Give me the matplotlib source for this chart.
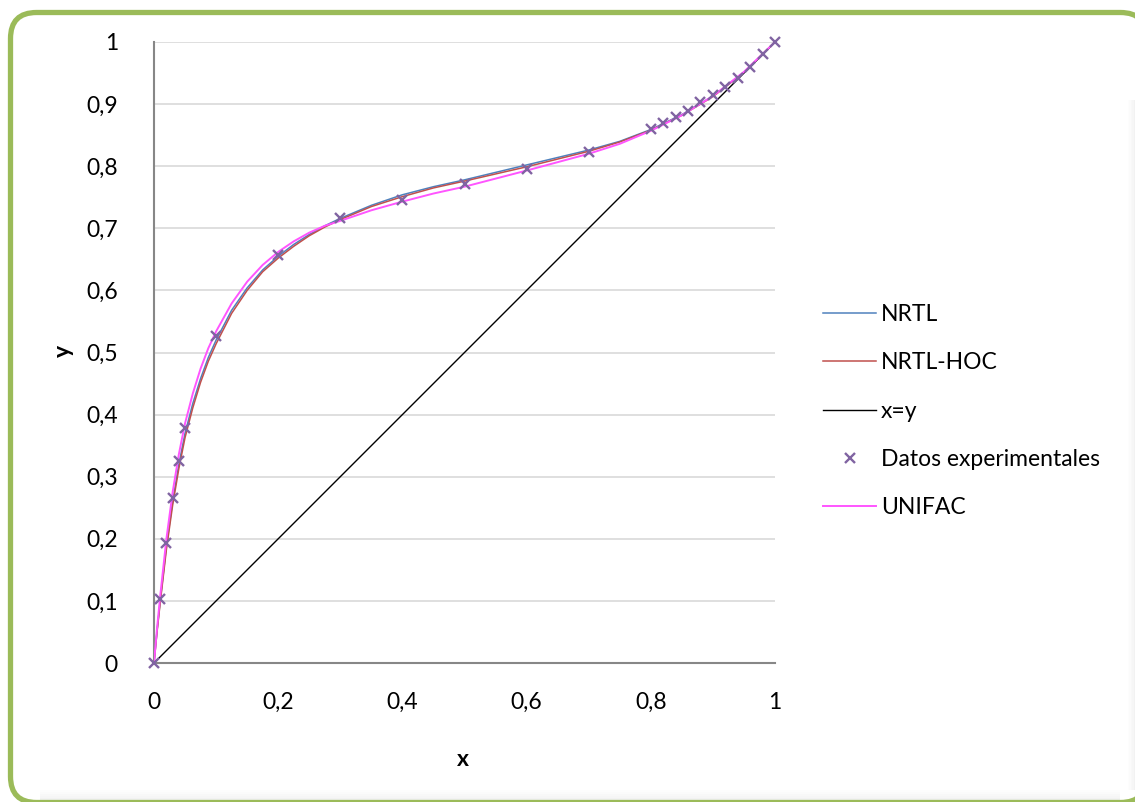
import matplotlib
matplotlib.use("Agg")
import matplotlib.pyplot as plt
from matplotlib.patches import FancyBboxPatch, Rectangle

plt.rcParams['font.family'] = ['Lato', 'DejaVu Sans']

# Experimental data
x_exp = [0, 0.01, 0.02, 0.03, 0.04, 0.05, 0.1, 0.2, 0.3, 0.4, 0.5, 0.6, 0.7,
         0.8, 0.82, 0.84, 0.86, 0.88, 0.9, 0.92, 0.94, 0.96, 0.98, 1.0]
y_exp = [0, 0.103, 0.193, 0.265, 0.325, 0.378, 0.527, 0.657, 0.716, 0.746, 0.772,
         0.796, 0.823, 0.860, 0.870, 0.879, 0.889, 0.903, 0.915, 0.928, 0.942,
         0.960, 0.980, 1.0]

# Model curves
x_mod = [0, 0.005, 0.01, 0.02, 0.03, 0.04, 0.05, 0.0625, 0.075, 0.0875, 0.1, 0.125, 0.15,
         0.175, 0.2, 0.225, 0.25, 0.275, 0.3, 0.35, 0.4, 0.45, 0.5, 0.6, 0.7, 0.75, 0.8,
         0.85, 0.9, 0.95, 1.0]
y_nrtl = [0, 0.053, 0.100, 0.188, 0.260, 0.320, 0.370, 0.418, 0.458, 0.492, 0.520, 0.568,
          0.604, 0.633, 0.655, 0.674, 0.690, 0.704, 0.716, 0.737, 0.754, 0.767, 0.778,
          0.802, 0.826, 0.840, 0.859, 0.883, 0.913, 0.951, 1.0]
y_hoc = [0, 0.051, 0.097, 0.183, 0.254, 0.313, 0.363, 0.411, 0.452, 0.486, 0.514, 0.563,
         0.600, 0.630, 0.652, 0.671, 0.688, 0.702, 0.714, 0.735, 0.751, 0.765, 0.776,
         0.799, 0.824, 0.839, 0.858, 0.882, 0.912, 0.951, 1.0]
y_unifac = [0, 0.057, 0.108, 0.200, 0.275, 0.336, 0.386, 0.434, 0.474, 0.507, 0.534, 0.579,
            0.614, 0.641, 0.662, 0.679, 0.693, 0.704, 0.712, 0.729, 0.743, 0.756, 0.767,
            0.793, 0.820, 0.836, 0.857, 0.882, 0.913, 0.952, 1.0]
x_diag = [0, 1]
y_diag = [0, 1]

ticks = [0, 0.1, 0.2, 0.3, 0.4, 0.5, 0.6, 0.7, 0.8, 0.9, 1.0]
xticks = [0, 0.2, 0.4, 0.6, 0.8, 1.0]
xtick_labels = ['0', '0,2', '0,4', '0,6', '0,8', '1']
ytick_labels = ['0', '0,1', '0,2', '0,3', '0,4', '0,5', '0,6', '0,7', '0,8', '0,9', '1']

FS = 16.5
W, H = 1135, 802
fig = plt.figure(figsize=(W / 100, H / 100), dpi=100)
fig.patch.set_facecolor('white')

# Border background axes (pixel coordinates)
bg = fig.add_axes([0, 0, 1, 1], zorder=-10)
bg.set_xlim(0, W)
bg.set_ylim(H, 0)
bg.axis('off')
border = FancyBboxPatch((10.5, 12.5), 1136, 790, boxstyle="round,pad=0,rounding_size=26",
                        linewidth=3.8, edgecolor='#9BBB59', facecolor='white')
bg.add_patch(border)
# faint shadow bands near right and bottom edges
for i, a in enumerate([0.10, 0.07, 0.05, 0.03, 0.015]):
    bg.add_patch(Rectangle((1135 - 1.5 * (i + 1), 100), 1.5, 690, color='gray', alpha=a, lw=0))
    bg.add_patch(Rectangle((40, 800 - 2 * (i + 1)), 1080, 2, color='gray', alpha=a, lw=0))

ax = fig.add_axes([154 / W, 1 - 663 / H, (775 - 154) / W, (663 - 42) / H])
ax.set_facecolor('none')
ax.set_xlim(0, 1)
ax.set_ylim(0, 1)

ax.plot(x_mod, y_nrtl, color='#4F81BD', lw=1.1, label='NRTL', zorder=3)
ax.plot(x_mod, y_hoc, color='#C0504D', lw=1.1, label='NRTL-HOC', zorder=3)
ax.plot(x_diag, y_diag, color='black', lw=1.0, label='x=y', zorder=3)
ax.plot(x_exp, y_exp, linestyle='none', marker='x', color='#8064A2', ms=7.2, mew=1.7,
        label='Datos experimentales', zorder=5, clip_on=False)
ax.plot(x_mod, y_unifac, color='#FF55FF', lw=1.4, label='UNIFAC', zorder=4)

ax.set_yticks(ticks)
ax.set_yticklabels(ytick_labels)
ax.set_xticks(xticks)
ax.set_xticklabels(xtick_labels)
ax.tick_params(length=0, labelsize=FS, colors='black')
ax.tick_params(axis='y', pad=26)
ax.tick_params(axis='x', pad=21)
ax.grid(axis='y', color='#D9D9D9', lw=1.2)
ax.set_axisbelow(True)
for s in ['top', 'right']:
    ax.spines[s].set_visible(False)
for s in ['left', 'bottom']:
    ax.spines[s].set_color('#878787')
    ax.spines[s].set_linewidth(1.5)

fig.text(463 / W, 1 - 760 / H, 'x', fontsize=FS, fontweight='bold', ha='center', va='center')
fig.text(63 / W, 1 - 351 / H, 'y', fontsize=FS, fontweight='bold', ha='center', va='center',
         rotation=90)

leg = ax.legend(loc='upper left', bbox_to_anchor=(814 / W, 1 - 295 / H),
                bbox_transform=fig.transFigure, frameon=False, fontsize=FS,
                handlelength=2.3, handletextpad=0.22, labelspacing=1.19,
                borderaxespad=0)

fig.savefig('out.png', dpi=100, facecolor='white')
